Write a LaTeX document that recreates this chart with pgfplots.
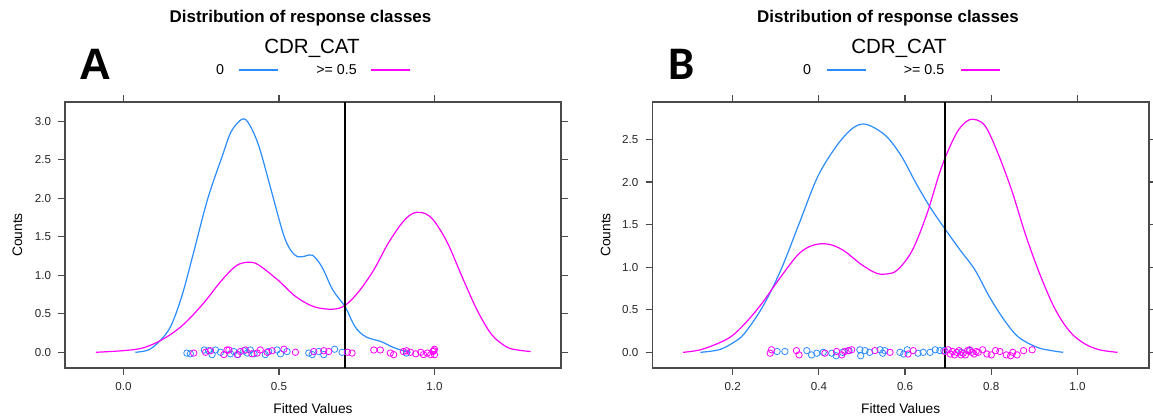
\documentclass[border=0pt]{standalone}
\usepackage{pgfplots}
\pgfplotsset{compat=1.18}
\usepackage{fontspec}
\setmainfont{Liberation Sans}
\newfontfamily\carlito{Carlito}
\definecolor{lblue}{HTML}{2A8CFF}
\definecolor{lmag}{HTML}{FF00FF}
\definecolor{frm}{HTML}{4A4A4A}

\pgfplotsset{latt/.style={
  scale only axis, width=372pt, height=199.5pt,
  anchor=south west,
  axis line style={frm, line width=0.9pt},
  tick align=outside, tick pos=both,
  major tick length=5pt,
  every tick/.style={frm, line width=0.9pt},
  tick label style={font=\fontsize{8.7}{10}\selectfont, text=black!85},
  /pgf/number format/assume math mode=true,
  /pgf/number format/fixed, /pgf/number format/fixed zerofill, /pgf/number format/precision=1,
  xticklabel style={yshift=-2pt},
  yticklabel style={xshift=-2pt},
},
dens/.style={line width=0.9pt, smooth, tension=0.55},
rug/.style={only marks, mark=o, mark size=2.4pt, line width=0.6pt},
}

\begin{document}
\begin{tikzpicture}
\path[use as bounding box] (0,0) rectangle (864.75pt,314.25pt);

% ---------------- Panel A ----------------
\begin{axis}[latt, at={(48.75pt,38.25pt)},
  xmin=-0.188, xmax=1.407, ymin=-0.204, ymax=3.25,
  xtick={0,0.5,1}, ytick={0,0.5,1,1.5,2,2.5,3}]
\addplot[dens, lblue] coordinates {
(0.038,0) (0.08,0.03) (0.115,0.14) (0.151,0.33) (0.187,0.72) (0.222,1.24)
(0.27,1.98) (0.317,2.54) (0.347,2.87) (0.383,3.03) (0.406,2.95) (0.436,2.67)
(0.472,2.15) (0.513,1.55) (0.537,1.33) (0.561,1.24) (0.585,1.25) (0.608,1.26)
(0.638,1.11) (0.673,0.81) (0.713,0.59) (0.745,0.33) (0.78,0.2) (0.828,0.14)
(0.864,0.07) (0.9,0.02) (0.923,0.0)};
\addplot[dens, lmag] coordinates {
(-0.089,0) (-0.004,0.02) (0.056,0.05) (0.103,0.12) (0.151,0.23) (0.198,0.38)
(0.258,0.64) (0.317,0.94) (0.365,1.13) (0.406,1.17) (0.436,1.13) (0.496,0.94)
(0.555,0.72) (0.614,0.59) (0.673,0.56) (0.713,0.61) (0.757,0.79) (0.805,1.07)
(0.852,1.42) (0.9,1.70) (0.935,1.81) (0.971,1.80) (1.0,1.70) (1.042,1.42)
(1.089,0.98) (1.137,0.55) (1.184,0.23) (1.232,0.07) (1.267,0.03) (1.309,0.01)};
\addplot[rug, lblue] coordinates {
(0.204,-0.01) (0.215,-0.02) (0.26,0.03) (0.274,0.02) (0.285,-0.03) (0.296,0.03)
(0.312,0.0) (0.344,-0.02) (0.355,0.01) (0.368,-0.03) (0.387,0.02) (0.398,-0.01)
(0.408,0.03) (0.42,-0.02) (0.456,-0.03) (0.467,0.01) (0.494,0.03) (0.505,-0.02)
(0.526,0.01) (0.596,-0.01) (0.607,-0.03) (0.628,0.01) (0.644,-0.03) (0.679,0.04)
(0.703,0.0) (0.91,-0.01)};
\addplot[rug, lmag] coordinates {
(0.226,-0.01) (0.264,0.0) (0.28,0.02) (0.323,-0.03) (0.333,0.03) (0.339,0.03)
(0.366,-0.03) (0.376,0.01) (0.392,0.03) (0.413,-0.02) (0.43,-0.01) (0.44,0.03)
(0.462,0.0) (0.478,0.02) (0.516,0.04) (0.553,0.0) (0.612,0.01) (0.644,0.02)
(0.66,0.01) (0.72,0.0) (0.735,-0.01) (0.805,0.03) (0.826,0.03) (0.858,-0.01)
(0.869,-0.03) (0.9,0.01) (0.91,0.02) (0.923,0.0) (0.94,-0.02) (0.956,0.0)
(0.965,-0.03) (0.977,-0.01) (0.988,-0.03) (0.995,0.01) (1.0,0.04) (1.0,-0.03) (0.998,0.02)};
\addplot[black, line width=1.5pt] coordinates {(0.7125,-0.204) (0.7125,3.25)};
\end{axis}

% ---------------- Panel B ----------------
\begin{axis}[latt, at={(489.2pt,38.25pt)}, width=372.5pt,
  xmin=0.0133, xmax=1.166, ymin=-0.184, ymax=2.94,
  xtick={0.2,0.4,0.6,0.8,1.0}, ytick={0,0.5,1,1.5,2,2.5}]
\addplot[dens, lblue] coordinates {
(0.125,0) (0.168,0.03) (0.2,0.11) (0.227,0.22) (0.27,0.54) (0.312,0.97)
(0.354,1.51) (0.397,2.06) (0.439,2.41) (0.473,2.61) (0.499,2.68) (0.524,2.65)
(0.558,2.53) (0.592,2.30) (0.626,1.98) (0.66,1.69) (0.694,1.44) (0.728,1.20)
(0.762,0.97) (0.796,0.65) (0.83,0.38) (0.863,0.18) (0.906,0.06) (0.94,0.02) (0.967,0)};
\addplot[dens, lmag] coordinates {
(0.085,0) (0.125,0.03) (0.168,0.11) (0.2,0.2) (0.236,0.38) (0.27,0.59)
(0.312,0.89) (0.354,1.16) (0.388,1.26) (0.422,1.27) (0.456,1.20) (0.499,1.03)
(0.533,0.93) (0.558,0.92) (0.583,0.97) (0.617,1.20) (0.651,1.63) (0.685,2.18)
(0.719,2.57) (0.745,2.72) (0.766,2.73) (0.787,2.65) (0.813,2.37) (0.847,1.91)
(0.881,1.36) (0.915,0.89) (0.949,0.50) (0.983,0.24) (1.017,0.10) (1.051,0.03) (1.093,0)};
\addplot[rug, lblue] coordinates {
(0.303,0.01) (0.321,0.01) (0.372,0.02) (0.383,-0.03) (0.395,-0.01) (0.41,0.0)
(0.43,-0.01) (0.44,-0.04) (0.455,0.0) (0.47,0.02) (0.495,0.03) (0.497,-0.04)
(0.507,0.02) (0.518,0.0) (0.542,0.03) (0.548,-0.01) (0.553,0.02) (0.588,0.0)
(0.597,-0.02) (0.605,0.03) (0.63,-0.01) (0.642,0.0) (0.658,0.0) (0.67,0.03)
(0.681,0.02) (0.69,0.02) (0.73,0.0) (0.75,0.02)};
\addplot[rug, lmag] coordinates {
(0.287,-0.01) (0.29,0.03) (0.348,0.02) (0.354,-0.03) (0.414,-0.01) (0.441,0.01)
(0.453,-0.03) (0.46,0.01) (0.468,0.02) (0.476,0.03) (0.53,0.02) (0.565,0.0)
(0.607,-0.02) (0.619,0.02) (0.693,0.01) (0.70,0.03) (0.705,-0.02) (0.71,0.01)
(0.715,-0.03) (0.72,0.0) (0.725,0.02) (0.73,-0.03) (0.735,-0.01) (0.74,-0.03)
(0.745,0.02) (0.75,0.03) (0.755,0.0) (0.76,-0.02) (0.765,0.01) (0.77,0.0)
(0.78,0.03) (0.79,-0.02) (0.80,-0.03) (0.81,0.02) (0.82,0.01) (0.835,-0.03)
(0.845,-0.04) (0.85,0.0) (0.86,-0.03) (0.875,0.02) (0.895,0.03)};
\addplot[black, line width=1.5pt] coordinates {(0.6937,-0.184) (0.6937,2.94)};
\end{axis}

% ---------------- Text ----------------
\node[font=\bfseries\fontsize{12.7}{14}\selectfont] at (225.4pt,300.5pt) {Distribution of response classes};
\node[font=\bfseries\fontsize{12.7}{14}\selectfont] at (666pt,300.5pt) {Distribution of response classes};
\node[font=\fontsize{15.4}{17}\selectfont] at (234pt,278.25pt) {CDR\_CAT};
\node[font=\fontsize{15.4}{17}\selectfont] at (674.25pt,278.25pt) {CDR\_CAT};
% legend A
\node[font=\fontsize{10.7}{12}\selectfont] at (165pt,261.75pt) {0};
\draw[lblue, line width=0.9pt] (178.9pt,261.75pt) -- (208.5pt,261.75pt);
\node[font=\fontsize{10.7}{12}\selectfont] at (252.4pt,261.75pt) {>= 0.5};
\draw[lmag, line width=0.9pt] (278.6pt,261.75pt) -- (307.7pt,261.75pt);
% legend B
\node[font=\fontsize{10.7}{12}\selectfont] at (605.4pt,261.75pt) {0};
\draw[lblue, line width=0.9pt] (620pt,261.75pt) -- (649.4pt,261.75pt);
\node[font=\fontsize{10.7}{12}\selectfont] at (693pt,261.75pt) {>= 0.5};
\draw[lmag, line width=0.9pt] (721pt,261.75pt) -- (749.8pt,261.75pt);
% panel letters
\node[font=\bfseries\fontsize{33}{36}\selectfont] at (71.7pt,266.25pt) {A};
\node[font=\carlito\bfseries\fontsize{35}{38}\selectfont] at (511.5pt,266.25pt) {B};
% axis labels
\node[font=\fontsize{10.3}{12}\selectfont, rotate=90] at (13.1pt,138pt) {Counts};
\node[font=\fontsize{10.3}{12}\selectfont, rotate=90] at (454.2pt,138pt) {Counts};
\node[font=\fontsize{10.3}{12}\selectfont] at (234.75pt,7.5pt) {Fitted Values};
\node[font=\fontsize{10.3}{12}\selectfont] at (675.5pt,7.5pt) {Fitted Values};
\end{tikzpicture}
\end{document}
